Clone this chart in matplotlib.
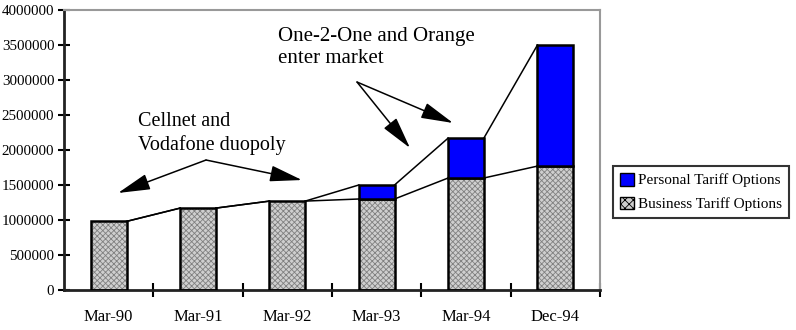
import matplotlib.pyplot as plt
import matplotlib.patches as patches
import numpy as np

periods = ["Mar-90", "Mar-91", "Mar-92", "Mar-93", "Mar-94", "Dec-94"]
business = [980000, 1170000, 1270000, 1300000, 1600000, 1770000]
personal = [0, 0, 0, 200000, 570000, 1730000]
yticks = [0, 500000, 1000000, 1500000, 2000000, 2500000, 3000000, 3500000, 4000000]

plt.rcParams['font.family'] = ['Liberation Serif', 'DejaVu Serif']
plt.rcParams['hatch.linewidth'] = 0.6

fig = plt.figure(figsize=(7.96, 3.30), dpi=100)
ax = fig.add_axes([64 / 796, 40 / 330, 536 / 796, 280 / 330])

x = np.arange(len(periods))
w = 0.4
total = [b + p for b, p in zip(business, personal)]

# series lines between neighbouring bars
for i in range(len(x) - 1):
    ax.plot([x[i] + w / 2, x[i + 1] - w / 2], [business[i], business[i + 1]],
            color='black', lw=1.1, zorder=1)
    ax.plot([x[i] + w / 2, x[i + 1] - w / 2], [total[i], total[i + 1]],
            color='black', lw=1.1, zorder=1)

# hatched business bars, then outlines
ax.bar(x, business, w, color='#cfcfcf', hatch='xxxxxx', edgecolor='#808080',
       linewidth=0, zorder=2)
ax.bar(x, business, w, facecolor='none', edgecolor='black', linewidth=1.8, zorder=3)
mask = np.array(personal) > 0
ax.bar(x[mask], np.array(personal)[mask], w, bottom=np.array(business)[mask],
       color='#0000ff', edgecolor='black', linewidth=1.8, zorder=3)

ax.set_xlim(-0.5, len(periods) - 0.5)
ax.set_ylim(0, 4000000)
ax.set_yticks(yticks)
ax.set_yticklabels([str(v) for v in yticks], fontsize=10.8)

ax.set_xticks(np.arange(len(periods)) + 0.5)
ax.set_xticklabels([])
ax.set_xticks(x, minor=True)
ax.set_xticklabels(periods, minor=True, fontsize=12)
ax.tick_params(axis='x', which='major', direction='inout', length=10, width=1.5)
ax.tick_params(axis='x', which='minor', length=0, pad=14)
ax.tick_params(axis='y', direction='inout', length=8, width=1.5, pad=3)

for s in ['left', 'bottom']:
    ax.spines[s].set_linewidth(2)
    ax.spines[s].set_color('#222222')
for s in ['top', 'right']:
    ax.spines[s].set_linewidth(1.5)
    ax.spines[s].set_color('#999999')

arrow = dict(arrowstyle='-|>,head_length=2.0,head_width=0.5', color='black',
             lw=1.1, shrinkA=0, shrinkB=0)
ax.text(0.33, 2540000, "Cellnet and\nVodafone duopoly", fontsize=14.5,
        va='top', ha='left', linespacing=1.25)
ax.annotate("", xy=(0.105, 1386000), xytext=(1.09, 1857000), arrowprops=arrow)
ax.annotate("", xy=(2.164, 1571000), xytext=(1.09, 1857000), arrowprops=arrow)

ax.text(1.9, 3760000, "One-2-One and Orange\nenter market", fontsize=15,
        va='top', ha='left', linespacing=1.2)
ax.annotate("", xy=(3.373, 2029000), xytext=(2.78, 2971000), arrowprops=arrow)
ax.annotate("", xy=(3.855, 2386000), xytext=(2.78, 2971000), arrowprops=arrow)

handles = [
    patches.Patch(facecolor='#0000ff', edgecolor='black', linewidth=1),
    patches.Patch(facecolor='#cfcfcf', edgecolor='black', hatch='xxxx', linewidth=1),
]
leg = fig.legend(handles, ["Personal Tariff Options", "Business Tariff Options"],
                 loc='upper left', bbox_to_anchor=(613 / 796, 1 - 166 / 330),
                 fontsize=11, frameon=True, fancybox=False, handlelength=0.9,
                 handleheight=0.9, handletextpad=0.3, borderpad=0.45,
                 labelspacing=0.6, borderaxespad=0)
leg.get_frame().set_edgecolor('black')
leg.get_frame().set_linewidth(1.5)

fig.savefig("out.png", dpi=100)
